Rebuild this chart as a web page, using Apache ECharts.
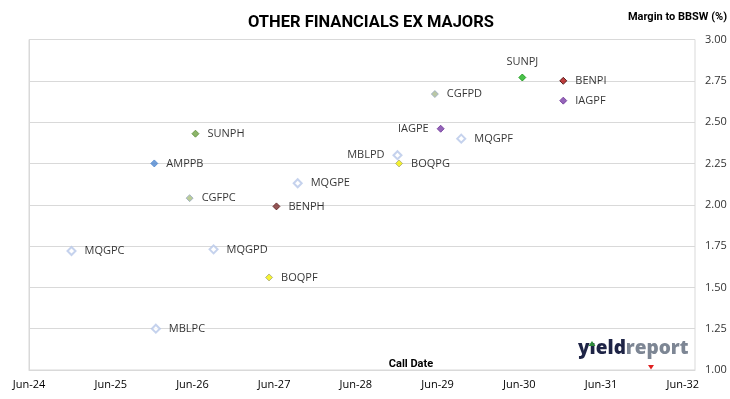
<!DOCTYPE html>
<html>
<head>
<meta charset="utf-8">
<script src="https://cdn.jsdelivr.net/npm/echarts@6/dist/echarts.min.js"></script>
<style>
  html, body { margin: 0; padding: 0; background: #fff; }
  #chart { width: 730px; height: 399px; }
</style>
</head>
<body>
<div id="chart"></div>
<script>
// securities, estimated call dates and margins
var names = ['MQGPC', 'AMPPB', 'MBLPC', 'CGFPC', 'SUNPH', 'MQGPD', 'BOQPF', 'BENPH', 'MQGPE',
             'MBLPD', 'BOQPG', 'CGFPD', 'IAGPE', 'MQGPF', 'SUNPJ', 'BENPI', 'IAGPF'];
var callDates = ['2024-12-08', '2025-12-13', '2025-12-20', '2026-05-20', '2026-06-15', '2026-09-04',
                 '2027-05-10', '2027-06-12', '2027-09-15', '2028-12-04', '2028-12-11', '2029-05-20',
                 '2029-06-15', '2029-09-15', '2030-06-15', '2030-12-15', '2030-12-15'];
var margins = [1.72, 2.25, 1.25, 2.04, 2.43, 1.73, 1.56, 1.99, 2.13,
               2.30, 2.25, 2.67, 2.46, 2.40, 2.77, 2.75, 2.63];
var yTicks = [1, 3, 0.25];   // min, max, step of the margin axis
var startYear = 24;          // first call-date tick: Jun-24

// marker looks
var hollow = { fill: '#ffffff', border: '#b7c7e8', hollow: true };
var styles = {
  AMPPB: { fill: '#4f87cf', border: '#4f87cf' },
  SUNPH: { fill: '#6fa344', border: '#5b8d36' },
  CGFPC: { fill: '#a9bf7e', border: '#9aaac4' },
  BENPH: { fill: '#7b2c2c', border: '#5a1e1e' },
  BOQPF: { fill: '#f4f000', border: '#a6a67a' },
  BOQPG: { fill: '#f4f000', border: '#a6a67a' },
  SUNPJ: { fill: '#1db31d', border: '#129312' },
  BENPI: { fill: '#b01010', border: '#3a0000' },
  IAGPE: { fill: '#7b3fa8', border: '#6a3096' },
  IAGPF: { fill: '#7b3fa8', border: '#6a3096' },
  CGFPD: { fill: '#a9b98e', border: '#9aaac4' }
};
var labelSide = { SUNPJ: 'top', IAGPE: 'left', MBLPD: 'left' };

var base = Date.parse('2024-06-01');
function yearsFromStart(d) {
  return (Date.parse(d) - base) / (365.25 * 86400000);
}

var points = names.map(function (n, i) {
  var s = styles[n] || hollow;
  var side = labelSide[n] || 'right';
  return {
    name: n,
    value: [yearsFromStart(callDates[i]), margins[i]],
    symbolSize: s.hollow ? 8 : 7,
    itemStyle: { color: s.fill, borderColor: s.border, borderWidth: s.hollow ? 2 : 1 },
    label: { position: side, distance: side === 'top' ? 6 : 8 }
  };
});

var font = 'Open Sans';
var chart = echarts.init(document.getElementById('chart'));
chart.setOption({
  animation: false,
  title: [{
    text: 'OTHER FINANCIALS EX MAJORS',
    left: 243, top: 9,
    textStyle: { fontFamily: 'Roboto', fontWeight: 'bold', fontSize: 16.5, color: '#000' }
  }, {
    text: 'Margin to BBSW (%)',
    right: 3, top: 12, padding: 0,
    textStyle: { fontFamily: 'Roboto', fontWeight: 'bold', fontSize: 11, color: '#000' }
  }],
  grid: {
    left: 29, right: 35, top: 39.5, bottom: 29,
    outerBoundsMode: 'none', containLabel: false,
    show: true, borderColor: '#d9d9d9', borderWidth: 1
  },
  xAxis: {
    type: 'value',
    min: 0, max: 8.15, interval: 1,
    name: 'Call Date', nameLocation: 'middle', nameGap: -11, nameMoveOverlap: false,
    nameTextStyle: { fontFamily: 'Roboto', fontWeight: 'bold', fontSize: 11, color: '#000', padding: [0, 0, 0, 98] },
    axisLine: { show: true, lineStyle: { color: '#d9d9d9' } },
    axisTick: { show: false },
    splitLine: { show: false },
    axisLabel: {
      margin: 9, fontFamily: font, fontSize: 11, color: '#000',
      showMaxLabel: false,
      formatter: function (v) {
        var r = Math.round(v);
        return Math.abs(v - r) < 1e-6 ? 'Jun-' + (startYear + r) : '';
      }
    }
  },
  yAxis: {
    type: 'value', position: 'right',
    min: yTicks[0], max: yTicks[1], interval: yTicks[2],
    axisLine: { show: true, lineStyle: { color: '#d9d9d9' } },
    axisTick: { show: true, inside: false, length: 4, lineStyle: { color: '#d9d9d9' } },
    splitLine: { show: true, lineStyle: { color: '#d9d9d9' } },
    axisLabel: {
      margin: 10, fontFamily: font, fontSize: 11, color: '#333',
      formatter: function (v) { return v.toFixed(2); }
    }
  },
  series: [{
    type: 'scatter',
    symbol: 'diamond',
    data: points,
    label: {
      show: true,
      formatter: '{b}',
      fontFamily: font, fontSize: 11, color: '#000'
    }
  }],
  graphic: [{
    type: 'text',
    left: 578, top: 339,
    style: {
      text: '{a|y\u0131eld}{b|report}',
      rich: {
        a: { fontFamily: font, fontWeight: 800, fontSize: 19, fill: '#1e2446' },
        b: { fontFamily: font, fontWeight: 800, fontSize: 19, fill: '#7d8694' }
      }
    }
  }, {
    type: 'polygon',
    shape: { points: [[592, 341], [595.5, 346], [588.5, 346]] },
    style: { fill: '#2e8b3a' }
  }, {
    type: 'polygon',
    shape: { points: [[648, 365], [654, 365], [651, 369.5]] },
    style: { fill: '#e02020' }
  }]
});
</script>
</body>
</html>
